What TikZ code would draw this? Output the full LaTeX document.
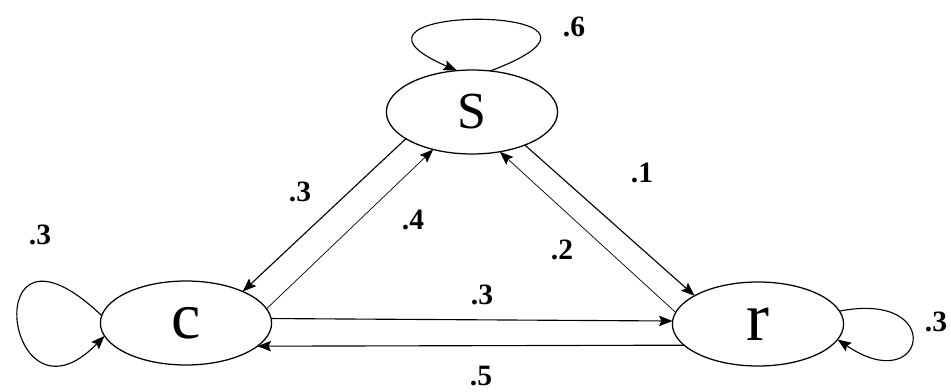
\documentclass[tikz,border=0pt]{standalone}
\usepackage{fontspec}
\setmainfont{Liberation Serif}
\usepackage{tikz}
\usetikzlibrary{positioning,arrows.meta,shapes.geometric}
\tikzset{mstate/.style={ellipse, draw=black, line width=0.9pt, inner sep=0pt, outer sep=0pt, minimum width=4.28cm, minimum height=2.1cm}}
\tikzset{medge/.style={-{Stealth[length=3.4mm, width=2.6mm, inset=0.6mm]}, draw=black, line width=0.8pt}}
\tikzset{mthin/.style={medge, line width=0.5pt}}
\tikzset{mlabel/.style={font=\fontsize{21}{21}\selectfont\bfseries, inner sep=0pt}}

\begin{document}
\begin{tikzpicture}
  \useasboundingbox (0,0) rectangle (23.775,9.775);

  \node[mstate, font=\fontsize{37}{37}\selectfont] (s) at (11.8,6.975) {S};
  \node[mstate, font=\fontsize{47}{47}\selectfont] (c) at (4.65,1.7) {c};
  \node[mstate, font=\fontsize{49}{49}\selectfont] (r) at (18.95,1.675) {r};

  % self loops
  \draw[medge] (s.66) .. controls +(4.5,1.7) and +(-3.925,1.7) .. (s.110);
  \draw[medge] (c.175) .. controls +(-3.175,3.025) and +(-2.5,-2.575) .. (c.189);
  \draw[medge] (r.9) .. controls +(2.7,0.525) and +(2.2,-1.5) .. (r.349);

  % between states
  \draw[medge] (s.202) -- (c.29);
  \draw[mthin] (c.10) -- (s.224);
  \draw[medge] (s.328) -- (r.156);
  \draw[mthin] (r.172) -- (s.305);
  \draw[medge] (c.3) -- (r.178);
  \draw[medge] (r.196) -- (c.342);

  \node[mlabel] (pss) at (14.35,9.1) {.6};
  \node[mlabel] (pcc) at (1.0,3.9) {.3};
  \node[mlabel] (prr) at (23.4,1.725) {.3};
  \node[mlabel] (psc) at (7.5,4.975) {.3};
  \node[mlabel] (pcs) at (10.325,4.275) {.4};
  \node[mlabel] (psr) at (16.05,5.45) {.1};
  \node[mlabel] (prs) at (14.05,3.525) {.2};
  \node[mlabel] (pcr) at (12.05,2.4) {.3};
  \node[mlabel] (prc) at (12.025,0.375) {.5};
\end{tikzpicture}
\end{document}
